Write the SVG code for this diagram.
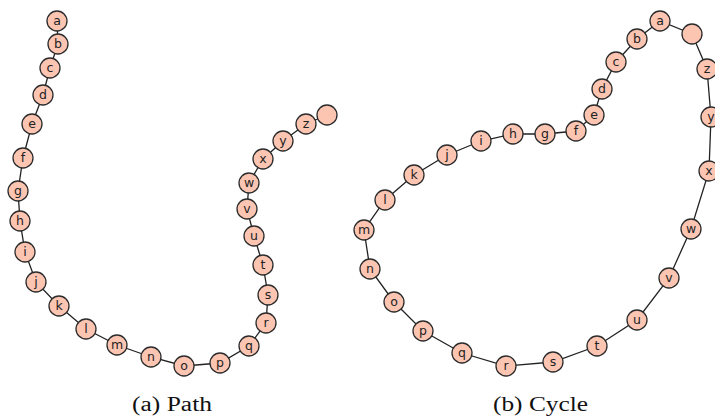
<svg xmlns="http://www.w3.org/2000/svg" width="715" height="418" viewBox="0 0 715 418">
  <style>
    .edge { stroke: #222; stroke-width: 1.3; fill: none; }
    .node circle { fill: #fcc5b2; stroke: #2b2b2b; stroke-width: 1.3; }
    .node text { font-family: "DejaVu Sans", sans-serif; font-size: 12.5px; fill: #222; text-anchor: middle; dominant-baseline: central; }
    .caption { font-family: "Liberation Serif", "DejaVu Serif", serif; font-size: 20.5px; fill: #111; }
  </style>
  <rect width="715" height="418" fill="#fff"/>

  <!-- (a) path graph edges -->
  <g id="path-edges">
    <polyline class="edge" points="57,21 58,44 50,68 43,95 32,124 23,158 18,191 20,221 25,252 36,282 59,306 86,329 117,345 151,357 184,366 220,363 249,346 266,323 268,295 263,265 254,236 247,209 249,183 263,159 283,141 306,124 327,115"/>
  </g>

  <!-- (b) cycle graph edges -->
  <g id="cycle-edges">
    <polygon class="edge" points="660,21 637,39 616,62 602,89 594,115 576,131 545,134 513,134 481,141 447,155 414,175 385,200 364,230 370,269 394,302 423,331 462,353 506,366 553,362 597,346 637,320 669,278 691,229 709,171 711,117 707,69 692,34"/>
  </g>

  <!-- (a) path graph nodes -->
  <g id="path-a" class="node"><circle cx="57" cy="21" r="10"/><text x="57" y="20">a</text></g>
  <g id="path-b" class="node"><circle cx="58" cy="44" r="10"/><text x="58" y="43">b</text></g>
  <g id="path-c" class="node"><circle cx="50" cy="68" r="10"/><text x="50" y="67">c</text></g>
  <g id="path-d" class="node"><circle cx="43" cy="95" r="10"/><text x="43" y="94">d</text></g>
  <g id="path-e" class="node"><circle cx="32" cy="124" r="10"/><text x="32" y="123">e</text></g>
  <g id="path-f" class="node"><circle cx="23" cy="158" r="10"/><text x="23" y="157">f</text></g>
  <g id="path-g" class="node"><circle cx="18" cy="191" r="10"/><text x="18" y="190">g</text></g>
  <g id="path-h" class="node"><circle cx="20" cy="221" r="10"/><text x="20" y="220">h</text></g>
  <g id="path-i" class="node"><circle cx="25" cy="252" r="10"/><text x="25" y="251">i</text></g>
  <g id="path-j" class="node"><circle cx="36" cy="282" r="10"/><text x="36" y="281">j</text></g>
  <g id="path-k" class="node"><circle cx="59" cy="306" r="10"/><text x="59" y="305">k</text></g>
  <g id="path-l" class="node"><circle cx="86" cy="329" r="10"/><text x="86" y="328">l</text></g>
  <g id="path-m" class="node"><circle cx="117" cy="345" r="10"/><text x="117" y="344">m</text></g>
  <g id="path-n" class="node"><circle cx="151" cy="357" r="10"/><text x="151" y="356">n</text></g>
  <g id="path-o" class="node"><circle cx="184" cy="366" r="10"/><text x="184" y="365">o</text></g>
  <g id="path-p" class="node"><circle cx="220" cy="363" r="10"/><text x="220" y="362">p</text></g>
  <g id="path-q" class="node"><circle cx="249" cy="346" r="10"/><text x="249" y="345">q</text></g>
  <g id="path-r" class="node"><circle cx="266" cy="323" r="10"/><text x="266" y="322">r</text></g>
  <g id="path-s" class="node"><circle cx="268" cy="295" r="10"/><text x="268" y="294">s</text></g>
  <g id="path-t" class="node"><circle cx="263" cy="265" r="10"/><text x="263" y="264">t</text></g>
  <g id="path-u" class="node"><circle cx="254" cy="236" r="10"/><text x="254" y="235">u</text></g>
  <g id="path-v" class="node"><circle cx="247" cy="209" r="10"/><text x="247" y="208">v</text></g>
  <g id="path-w" class="node"><circle cx="249" cy="183" r="10"/><text x="249" y="182">w</text></g>
  <g id="path-x" class="node"><circle cx="263" cy="159" r="10"/><text x="263" y="158">x</text></g>
  <g id="path-y" class="node"><circle cx="283" cy="141" r="10"/><text x="283" y="140">y</text></g>
  <g id="path-z" class="node"><circle cx="306" cy="124" r="10"/><text x="306" y="123">z</text></g>
  <g id="path-end" class="node"><circle cx="327" cy="115" r="10"/></g>

  <!-- (b) cycle graph nodes -->
  <g id="cycle-a" class="node"><circle cx="660" cy="21" r="10"/><text x="660" y="20">a</text></g>
  <g id="cycle-b" class="node"><circle cx="637" cy="39" r="10"/><text x="637" y="38">b</text></g>
  <g id="cycle-c" class="node"><circle cx="616" cy="62" r="10"/><text x="616" y="61">c</text></g>
  <g id="cycle-d" class="node"><circle cx="602" cy="89" r="10"/><text x="602" y="88">d</text></g>
  <g id="cycle-e" class="node"><circle cx="594" cy="115" r="10"/><text x="594" y="114">e</text></g>
  <g id="cycle-f" class="node"><circle cx="576" cy="131" r="10"/><text x="576" y="130">f</text></g>
  <g id="cycle-g" class="node"><circle cx="545" cy="134" r="10"/><text x="545" y="133">g</text></g>
  <g id="cycle-h" class="node"><circle cx="513" cy="134" r="10"/><text x="513" y="133">h</text></g>
  <g id="cycle-i" class="node"><circle cx="481" cy="141" r="10"/><text x="481" y="140">i</text></g>
  <g id="cycle-j" class="node"><circle cx="447" cy="155" r="10"/><text x="447" y="154">j</text></g>
  <g id="cycle-k" class="node"><circle cx="414" cy="175" r="10"/><text x="414" y="174">k</text></g>
  <g id="cycle-l" class="node"><circle cx="385" cy="200" r="10"/><text x="385" y="199">l</text></g>
  <g id="cycle-m" class="node"><circle cx="364" cy="230" r="10"/><text x="364" y="229">m</text></g>
  <g id="cycle-n" class="node"><circle cx="370" cy="269" r="10"/><text x="370" y="268">n</text></g>
  <g id="cycle-o" class="node"><circle cx="394" cy="302" r="10"/><text x="394" y="301">o</text></g>
  <g id="cycle-p" class="node"><circle cx="423" cy="331" r="10"/><text x="423" y="330">p</text></g>
  <g id="cycle-q" class="node"><circle cx="462" cy="353" r="10"/><text x="462" y="352">q</text></g>
  <g id="cycle-r" class="node"><circle cx="506" cy="366" r="10"/><text x="506" y="365">r</text></g>
  <g id="cycle-s" class="node"><circle cx="553" cy="362" r="10"/><text x="553" y="361">s</text></g>
  <g id="cycle-t" class="node"><circle cx="597" cy="346" r="10"/><text x="597" y="345">t</text></g>
  <g id="cycle-u" class="node"><circle cx="637" cy="320" r="10"/><text x="637" y="319">u</text></g>
  <g id="cycle-v" class="node"><circle cx="669" cy="278" r="10"/><text x="669" y="277">v</text></g>
  <g id="cycle-w" class="node"><circle cx="691" cy="229" r="10"/><text x="691" y="228">w</text></g>
  <g id="cycle-x" class="node"><circle cx="709" cy="171" r="10"/><text x="709" y="170">x</text></g>
  <g id="cycle-y" class="node"><circle cx="711" cy="117" r="10"/><text x="711" y="116">y</text></g>
  <g id="cycle-z" class="node"><circle cx="707" cy="69" r="10"/><text x="707" y="68">z</text></g>
  <g id="cycle-end" class="node"><circle cx="692" cy="34" r="10"/></g>

  <!-- sub-figure captions -->
  <text class="caption" x="132" y="411" textLength="80" lengthAdjust="spacingAndGlyphs">(a) Path</text>
  <text class="caption" x="493" y="411" textLength="95" lengthAdjust="spacingAndGlyphs">(b) Cycle</text>
</svg>
